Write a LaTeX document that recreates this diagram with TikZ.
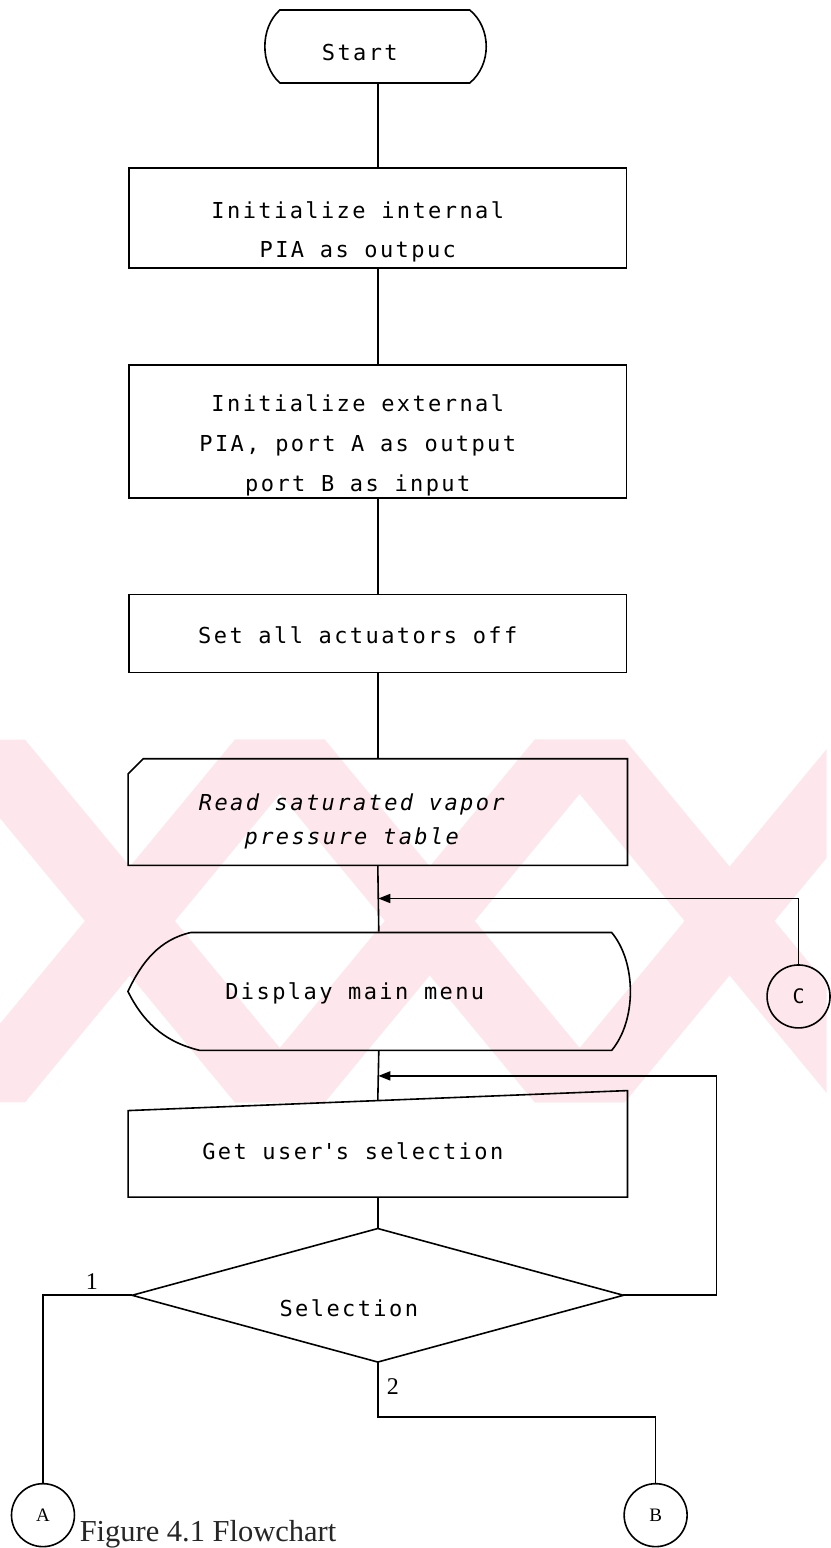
\documentclass[tikz,border=0pt]{standalone}
\usepackage{fontspec}
\newfontfamily\dotfont[LetterSpace=11]{DejaVu Sans Mono}
\newfontfamily\capfont{Liberation Serif}
\usetikzlibrary{arrows.meta,calc}
\definecolor{wmpink}{RGB}{253,231,236}

\begin{document}
\begin{tikzpicture}[x=1pt,y=-1pt,
  line width=1.6pt,
  holder/.style={draw=none, rectangle, inner sep=0pt},
  boxshape/.style={draw, rectangle, inner sep=0pt},
  txt/.style={font=\dotfont\fontsize{22}{40}\selectfont, align=center, inner sep=0pt},
  conn/.style={circle, draw, minimum size=63pt, inner sep=0pt},
  lbl/.style={font=\capfont\fontsize{24}{24}\selectfont, inner sep=0pt},
  arrowin/.style={-{Triangle[length=12pt,width=9pt]}},
]
% page
\fill[white] (0,0) rectangle (827,1548);

% faint background band with crossed stripes
\begin{scope}
  \clip (0,740) rectangle (827,1103);
  \foreach \c in {130,430,730} {
    \fill[wmpink] (\c-45-150,740) -- (\c+45-150,740) -- (\c+45+150,1103) -- (\c-45+150,1103) -- cycle;
    \fill[wmpink] (\c-45+150,740) -- (\c+45+150,740) -- (\c+45-150,1103) -- (\c-45-150,1103) -- cycle;
  }
\end{scope}

% ---- start terminal
\node[holder, minimum width=220, minimum height=73] (start) at (378,46.5) {};
\draw (280,10) -- (470,10) .. controls (492,28) and (492,65) .. (470,83)
      -- (280,83) .. controls (260,65) and (260,28) .. (280,10) -- cycle;
\node[txt] (startt) at (360,53) {Start};

% ---- process boxes
\node[boxshape, minimum width=498, minimum height=100] (init1) at (378,218) {};
\node[txt] (init1t) at (358,232) {Initialize internal\\PIA as outpuc};

\node[boxshape, minimum width=498, minimum height=133] (init2) at (378,431.5) {};
\node[txt] (init2t) at (358,446) {Initialize external\\PIA, port A as output\\port B as input};

\node[boxshape, minimum width=498, minimum height=78] (init3) at (378,634) {};
\node[txt] (init3t) at (358,636) {Set all actuators off};

% ---- card: read table
\node[holder, minimum width=498, minimum height=105] (read) at (378,812.5) {};
\draw ([yshift=-15pt]read.north west) -- ([xshift=15pt]read.north west)
      -- (read.north east) -- (read.south east) -- (read.south west) -- cycle;
\node[txt, font=\dotfont\itshape\fontsize{22}{34}\selectfont] (readt) at (352,822) {Read saturated vapor\\pressure table};

% ---- display
\node[holder, minimum width=503, minimum height=118] (disp) at (379,992) {};
\draw (191,933) -- (612,933) .. controls (637,963) and (637,1021) .. (612,1051)
      -- (200,1051) .. controls (162,1042) and (142,1020) .. (128,992)
      .. controls (142,962) and (160,940) .. (191,933) -- cycle;
\node[txt] (dispt) at (355,994) {Display main menu};

% ---- manual input
\node[holder, minimum width=498, minimum height=105] (gu) at (378,1144.5) {};
\draw ([yshift=-20pt]gu.north west) -- (gu.north east) -- (gu.south east)
      -- (gu.south west) -- cycle;
\node[txt] (gut) at (353,1152) {Get user\textquotesingle s selection};

% ---- decision
\node[holder, minimum width=490, minimum height=132] (dia) at (378,1296) {};
\draw (dia.north) -- (dia.east) -- (dia.south) -- (dia.west) -- cycle;
\node[txt] (diat) at (349,1309) {Selection};

% ---- connectors (off-page)
\node[conn] (ca) at (43,1516) {};
\node[lbl, font=\capfont\fontsize{19}{19}\selectfont] (cat) at (ca) {A};
\node[conn] (cb) at (656,1516) {};
\node[lbl, font=\capfont\fontsize{19}{19}\selectfont] (cbt) at (cb) {B};
\node[conn] (cc) at (799,997) {};
\node[txt, font=\dotfont\fontsize{20}{20}\selectfont] (cct) at (cc) {C};

% ---- flow lines
\draw (start.south) -- (init1.north);
\draw (init1.south) -- (init2.north);
\draw (init2.south) -- (init3.north);
\draw (init3.south) -- (read.north);
\draw (read.south) -- (disp.north);
\coordinate (guTop) at ($([yshift=-20pt]gu.north west)!0.5!(gu.north east)$);
\draw (disp.south) -- (guTop);
\draw (gu.south) -- (dia.north);
\coordinate (j1) at ($(read.south)!0.5!(disp.north)$);
\coordinate (j2) at ($(disp.south)!0.5!(guTop)$);
\draw[arrowin] (cc.north) |- (j1);
\draw[arrowin] (dia.east) -- ++(93,0) |- (j2);
\draw (dia.west) -| (ca.north);
\draw (dia.south) -- ++(0,55) -| (cb.north);

% ---- branch labels and caption
\node[lbl] (one) at (92,1282) {1};
\node[lbl] (two) at (393,1387) {2};
\node[lbl, font=\capfont\fontsize{30.5}{30.5}\selectfont, text=black!85, anchor=west] (cap) at (79,1535) {Figure 4.1 Flowchart};
\end{tikzpicture}
\end{document}
